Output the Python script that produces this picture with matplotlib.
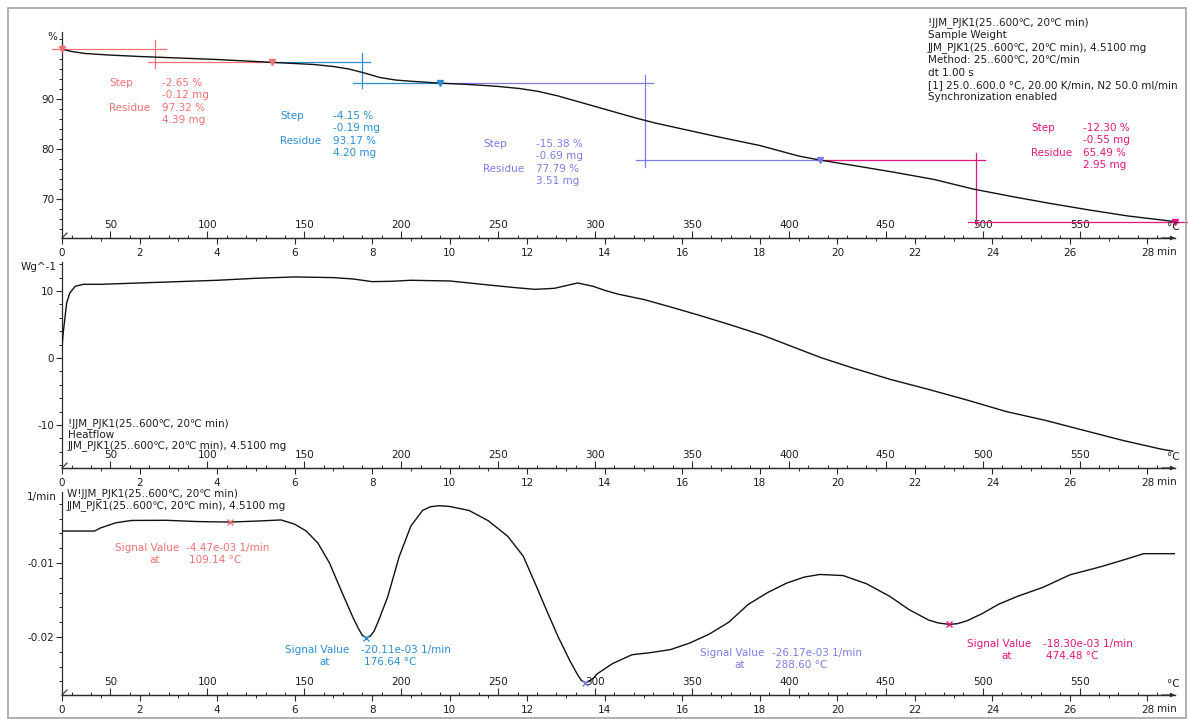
import matplotlib
matplotlib.use("Agg")
import matplotlib.pyplot as plt
from matplotlib.lines import Line2D
from matplotlib.patches import Rectangle
from matplotlib.ticker import FixedLocator, MultipleLocator, FuncFormatter

# ---------------- measurement data ----------------
# TGA: sample weight in % of initial mass, against time in minutes
tga_time_min = [0.0, 0.25, 0.6, 1.2, 2.0, 3.0, 4.0, 5.0, 5.42, 6.0, 6.5, 7.0, 7.4,
                7.8, 8.2, 8.6, 9.0, 9.75, 10.5, 11.2, 11.8, 12.3, 12.8, 13.3, 13.8,
                14.3, 14.8, 15.3, 16.0, 17.0, 18.0, 19.0, 19.55, 20.5, 21.5, 22.5,
                23.5, 24.5, 25.5, 26.5, 27.5, 28.7]
tga_mass_pct = [99.97, 99.5, 99.1, 98.8, 98.5, 98.2, 97.9, 97.5, 97.32, 97.1, 96.9,
                96.5, 96.0, 95.2, 94.3, 93.8, 93.55, 93.17, 92.9, 92.55, 92.1, 91.5,
                90.6, 89.5, 88.4, 87.3, 86.2, 85.2, 84.0, 82.3, 80.7, 78.6, 77.79,
                76.6, 75.3, 73.9, 72.0, 70.5, 69.1, 67.8, 66.6, 65.49]

# DSC heat flow in W/g
hf_time_min = [0.0, 0.03, 0.12, 0.2, 0.34, 0.55, 1.0, 2.0, 3.0, 4.0, 5.0, 6.0, 7.0,
               7.5, 8.0, 8.5, 9.0, 10.0, 11.0, 11.7, 12.2, 12.7, 13.0, 13.3, 13.7,
               14.0, 14.33, 15.03, 15.83, 16.48, 17.27, 18.07, 18.77, 19.57, 20.37,
               21.37, 22.36, 23.36, 24.36, 25.36, 26.36, 27.36, 28.35, 28.65]
hf_w_per_g = [1.7, 3.7, 8.2, 9.7, 10.7, 11.0, 11.0, 11.2, 11.4, 11.6, 11.9, 12.1,
              12.0, 11.8, 11.4, 11.45, 11.6, 11.5, 10.9, 10.5, 10.25, 10.4, 10.8,
              11.2, 10.7, 10.1, 9.55, 8.7, 7.4, 6.3, 4.9, 3.4, 1.85, 0.07, -1.44,
              -3.2, -4.7, -6.3, -8.0, -9.3, -10.8, -12.3, -13.6, -13.9]

# DTG: first derivative of the normalised weight, 1/min
dtg_time_min = [0.0, 0.84, 1.0, 1.4, 1.8, 2.7, 3.5, 4.33, 5.1, 5.65, 6.0, 6.3, 6.6,
                6.9, 7.2, 7.5, 7.65, 7.75, 7.85, 7.95, 8.05, 8.15, 8.4, 8.7, 9.0,
                9.3, 9.5, 9.7, 9.85, 10.0, 10.5, 11.0, 11.5, 11.9, 12.2, 12.5, 12.8,
                13.1, 13.3, 13.4, 13.5, 13.6, 13.7, 13.8, 14.2, 14.7, 15.2, 15.7,
                16.2, 16.7, 17.2, 17.7, 18.2, 18.7, 19.15, 19.55, 20.15, 20.75,
                21.35, 21.85, 22.35, 22.6, 22.89, 23.1, 23.35, 23.75, 24.15, 24.65,
                25.3, 26.0, 26.8, 27.5, 27.9, 28.71]
dtg_per_min = [-0.00568, -0.00568, -0.00525, -0.00455, -0.00425, -0.00423, -0.0044,
               -0.00447, -0.00432, -0.00418, -0.00475, -0.00568, -0.0073, -0.0100,
               -0.0137, -0.0173, -0.0189, -0.0198, -0.02011, -0.0199, -0.0192,
               -0.0180, -0.0146, -0.0091, -0.0050, -0.0029, -0.0024, -0.00227,
               -0.00229, -0.00236, -0.0029, -0.0043, -0.0064, -0.0091, -0.0127,
               -0.0164, -0.0200, -0.0232, -0.0251, -0.0259, -0.02617, -0.0260,
               -0.0256, -0.0250, -0.0236, -0.0224, -0.0221, -0.0217, -0.0208,
               -0.0196, -0.0180, -0.0156, -0.0140, -0.0127, -0.0119, -0.01155,
               -0.0117, -0.0128, -0.0145, -0.0163, -0.0177, -0.0181, -0.0183,
               -0.0182, -0.0178, -0.0168, -0.0156, -0.0145, -0.0133, -0.0116,
               -0.0105, -0.0094, -0.00874, -0.00874]

# TGA step evaluations
step_start_pct = 99.97
step_pct = [-2.65, -4.15, -15.38, -12.30]
step_mg = [-0.12, -0.19, -0.69, -0.55]
residue_pct = [97.32, 93.17, 77.79, 65.49]
residue_mg = [4.39, 4.20, 3.51, 2.95]
step_end_min = [5.42, 9.75, 19.55, 28.7]
step_mid_min = [2.41, 7.74, 15.04, 23.57]

# DTG peak evaluations
peak_signal = [-4.47e-3, -20.11e-3, -26.17e-3, -18.30e-3]
peak_temp_c = [109.14, 176.64, 288.60, 474.48]
peak_time_min = [4.33, 7.85, 13.5, 22.89]

minute_ticks = list(range(0, 29, 2))
temp_ticks = [50, 100, 150, 200, 250, 300, 350, 400, 450, 500, 550]

info_lines = [
    "!JJM_PJK1(25..600\u2103, 20\u2103 min)",
    "Sample Weight",
    "JJM_PJK1(25..600\u2103, 20\u2103 min), 4.5100 mg",
    "Method: 25..600\u2103, 20\u2103/min",
    "dt 1.00 s",
    "[1] 25.0..600.0 \u00b0C, 20.00 K/min, N2 50.0 ml/min",
    "Synchronization enabled",
]
hf_lines = [
    "!JJM_PJK1(25..600\u2103, 20\u2103 min)",
    "Heatflow",
    "JJM_PJK1(25..600\u2103, 20\u2103 min), 4.5100 mg",
]
dtg_lines = [
    "W!JJM_PJK1(25..600\u2103, 20\u2103 min)",
    "JJM_PJK1(25..600\u2103, 20\u2103 min), 4.5100 mg",
]

T_START = 25.0   # deg C
RATE = 20.0      # K/min

# ---------------- styling ----------------
plt.rcParams["font.family"] = ["DejaVu Sans", "Noto Sans CJK SC"]
plt.rcParams["axes.unicode_minus"] = False

W, H = 1188, 719
AX_L, AX_R = 62, 1175
XMAX = 28.71
FS = 7.5
AXIS_C = "#2a2a2a"
TEXT_C = "#1e1e1e"
CURVE_C = "#111111"
EVAL_COLORS = ["#f07272", "#2a8fd2", "#7c7ce8", "#e4157c"]

fig = plt.figure(figsize=(W / 100, H / 100), dpi=100)
fig.patch.set_facecolor("white")


def fx(x):
    return x / W


def fy(y):
    return 1 - y / H


def ftext(x, y, s, **kw):
    kw.setdefault("fontsize", FS)
    kw.setdefault("va", "center")
    kw.setdefault("color", TEXT_C)
    return fig.text(fx(x), fy(y), s, **kw)


def to_temp(t):
    return T_START + RATE * t


def to_time(T):
    return (T - T_START) / RATE


def make_panel(top, bottom, ylim, major, minor, yfmt, unit):
    ax = fig.add_axes([fx(AX_L), fy(bottom), fx(AX_R) - fx(AX_L), fy(top) - fy(bottom)])
    ax.set_xlim(0, XMAX)
    ax.set_ylim(*ylim)
    ax.patch.set_alpha(0)
    for s in ("top", "right"):
        ax.spines[s].set_visible(False)
    for s in ("left", "bottom"):
        ax.spines[s].set_color(AXIS_C)
        ax.spines[s].set_linewidth(0.9)

    ax.yaxis.set_major_locator(FixedLocator(major))
    ax.yaxis.set_minor_locator(MultipleLocator(minor))
    ax.yaxis.set_major_formatter(FuncFormatter(yfmt))
    ax.tick_params(axis="y", which="major", direction="out", length=4, width=0.8,
                   pad=1.5, labelsize=FS, colors=AXIS_C, labelcolor=TEXT_C)
    ax.tick_params(axis="y", which="minor", direction="out", length=2.5, width=0.7,
                   colors=AXIS_C)

    ax.xaxis.set_major_locator(FixedLocator(minute_ticks))
    ax.xaxis.set_minor_locator(MultipleLocator(1))
    ax.xaxis.set_major_formatter(FuncFormatter(lambda v, p: f"{v:.0f}"))
    ax.tick_params(axis="x", which="major", direction="out", length=4, width=0.8,
                   pad=3.5, labelsize=FS, colors=AXIS_C, labelcolor=TEXT_C)
    ax.tick_params(axis="x", which="minor", direction="out", length=2, width=0.7,
                   colors=AXIS_C)

    sec = ax.secondary_xaxis(0.0, functions=(to_temp, to_time))
    sec.set_alignment("top")
    sec.xaxis.set_major_locator(FixedLocator(temp_ticks))
    sec.xaxis.set_minor_locator(MultipleLocator(10))
    sec.xaxis.set_major_formatter(FuncFormatter(lambda v, p: f"{v:.0f}"))
    sec.tick_params(axis="x", which="major", direction="out", length=5, width=0.8,
                    pad=1, labelsize=FS, colors=AXIS_C, labelcolor=TEXT_C)
    sec.tick_params(axis="x", which="minor", direction="out", length=2.5, width=0.7,
                    colors=AXIS_C)
    sec.spines["top"].set_color(AXIS_C)
    sec.spines["top"].set_linewidth(0.9)

    # unit labels at the axis ends
    ftext(1173, bottom - 11, "\u00b0C", ha="center")
    ftext(1157, bottom + 14, "min", ha="left")
    ftext(57, top + 5, unit, ha="right")
    # end arrow of the abscissa and small origin mark
    ax.annotate("", xy=(1.0, 0.0), xytext=(0.988, 0.0), xycoords="axes fraction",
                arrowprops=dict(arrowstyle="-|>", lw=0.8, color=AXIS_C,
                                mutation_scale=6, shrinkA=0, shrinkB=0))
    fig.add_artist(Line2D([fx(AX_L), fx(AX_L + 5)], [fy(bottom), fy(bottom - 5)],
                          color=AXIS_C, lw=0.8))
    return ax


# ---------------- panel 1: TGA ----------------
ax1 = make_panel(32, 238, (62.2, 103.4), [70, 80, 90], 2,
                 lambda v, p: f"{v:.0f}", "%")
ax1.plot(tga_time_min, tga_mass_pct, color=CURVE_C, lw=1.0, zorder=5)

levels = [step_start_pct] + residue_pct
# evaluation limits (min) and vertical extents (%) of the step constructions
upper_span = [(-0.26, 2.67), (5.42, 7.95), (9.75, 15.25), (19.55, 23.8)]
lower_span = [(2.21, 5.42), (7.5, 9.75), (14.8, 19.55), (23.37, 29.05)]
vert_span = [(101.8, 96.2), (99.2, 92.2), (94.8, 76.4), (79.2, 64.8)]
for i, c in enumerate(EVAL_COLORS):
    ax1.plot(upper_span[i], [levels[i]] * 2, color=c, lw=0.9, clip_on=False, zorder=3)
    ax1.plot(lower_span[i], [levels[i + 1]] * 2, color=c, lw=0.9, clip_on=False, zorder=3)
    ax1.plot([step_mid_min[i]] * 2, vert_span[i], color=c, lw=0.9, clip_on=False, zorder=3)
    ax1.plot([step_end_min[i]], [residue_pct[i]], marker="v", ms=4, color=c,
             clip_on=False, zorder=6)
ax1.plot([0], [step_start_pct], marker="v", ms=4, color=EVAL_COLORS[0],
         clip_on=False, zorder=6)

# step result blocks: (label x, value x, first line y) in pixels
step_text_pos = [(109, 162, 83), (280, 333, 116), (483, 536, 144), (1031, 1083, 128)]
for i, c in enumerate(EVAL_COLORS):
    xl, xv, y0 = step_text_pos[i]
    dy = 12.3
    ftext(xl, y0, "Step", color=c)
    ftext(xl, y0 + 2 * dy, "Residue", color=c)
    ftext(xv, y0, f"{step_pct[i]:.2f} %", color=c)
    ftext(xv, y0 + dy, f"{step_mg[i]:.2f} mg", color=c)
    ftext(xv, y0 + 2 * dy, f"{residue_pct[i]:.2f} %", color=c)
    ftext(xv, y0 + 3 * dy, f"{residue_mg[i]:.2f} mg", color=c)

for k, line in enumerate(info_lines):
    ftext(928, 23 + 12.4 * k, line)

# ---------------- panel 2: heat flow ----------------
ax2 = make_panel(262, 468, (-16.42, 14.33), [-10, 0, 10], 2,
                 lambda v, p: f"{v:.0f}", "Wg^-1")
ax2.plot(hf_time_min, hf_w_per_g, color=CURVE_C, lw=1.0, zorder=5)
for k, line in enumerate(hf_lines):
    ftext(68, 424 + 11 * k, line)

# ---------------- panel 3: DTG ----------------
ax3 = make_panel(492, 695, (-0.02784, -0.000405), [-0.02, -0.01], 0.002,
                 lambda v, p: f"{v:.2f}", "1/min")
ax3.plot(dtg_time_min, dtg_per_min, color=CURVE_C, lw=1.0, zorder=5)
for k, line in enumerate(dtg_lines):
    ftext(67, 494 + 12 * k, line)

# peak markers and result blocks: (label x, value x, first line y) in pixels
peak_text_pos = [(115, 186, 548), (285, 361, 650), (700, 772, 653), (967, 1043, 644)]
for i, c in enumerate(EVAL_COLORS):
    ax3.plot([peak_time_min[i]], [peak_signal[i]], marker="x", ms=5, mew=1.0,
             color=c, zorder=6)
    xl, xv, y0 = peak_text_pos[i]
    ftext(xl, y0, "Signal Value", color=c)
    ftext(xl + 40, y0 + 12, "at", color=c, ha="center")
    ftext(xv, y0, f"{peak_signal[i] * 1e3:.2f}e-03 1/min", color=c)
    ftext(xv + 3, y0 + 12, f"{peak_temp_c[i]:.2f} \u00b0C", color=c)

# window frame
fig.add_artist(Rectangle((fx(8), fy(718)), fx(1186) - fx(8), fy(8) - fy(718),
                         transform=fig.transFigure, fill=False,
                         ec="#a9a9a9", lw=1.3))

fig.savefig("out.png", dpi=100)
